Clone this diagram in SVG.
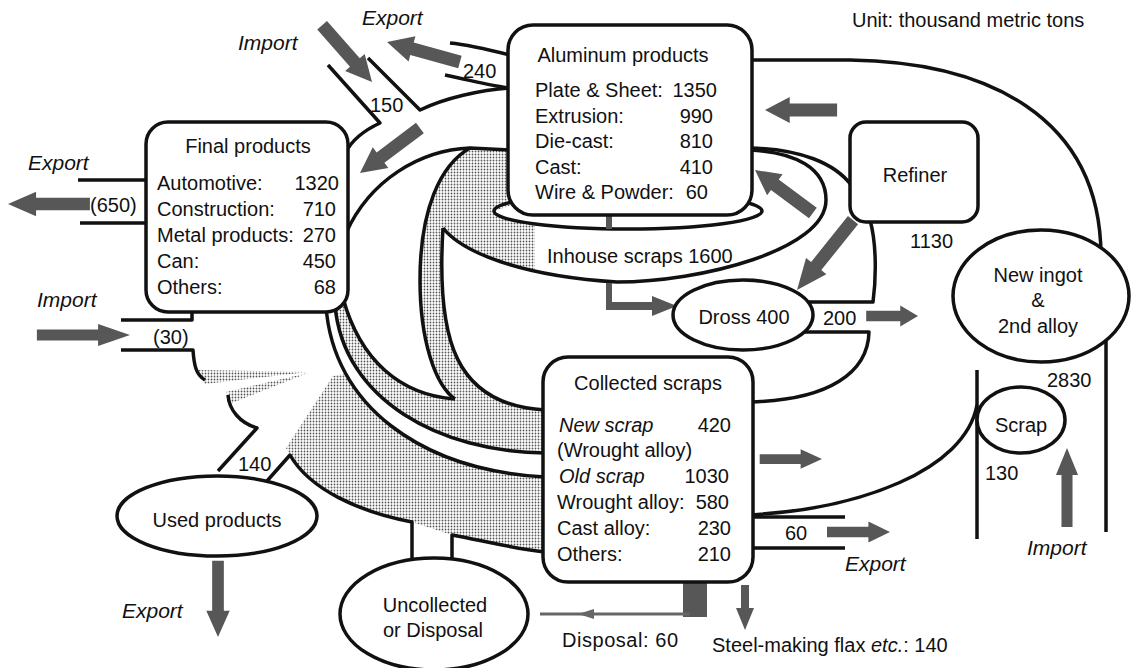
<svg xmlns="http://www.w3.org/2000/svg" width="1131" height="668" viewBox="0 0 1131 668">
<defs>
<style>
.ln{fill:none;stroke:#111;stroke-width:3.5;stroke-linejoin:round}
.nd{fill:#fff;stroke:#111;stroke-width:3.5}
.arr{fill:#575757}
.sh{fill:url(#dots);stroke:none}
.t{font-family:"Liberation Sans",Arial,sans-serif;font-size:20px;fill:#111}
.it{font-style:italic;font-size:21px}
.m{text-anchor:middle}
.e{text-anchor:end}
</style>
<pattern id="dots" width="3" height="3" patternUnits="userSpaceOnUse"><rect width="3" height="3" fill="#fff"/><circle cx="1.5" cy="1.5" r="0.9" fill="#555"/></pattern>
<path id="arr" d="M0,0 L-24,-13 L-24,-6.5 L-70,-6.5 L-70,6.5 L-24,6.5 L-24,13 Z"/>
</defs>
<rect width="1131" height="668" fill="#fff"/>

<g id="connectors">
  <!-- shaded bands -->
  <path class="sh" d="M470,148 L512,150 L512,205 L494,211 A134,18 0 0 0 535,224 L535,271 C486.4,260.4 455.8,244.2 443,228 C436,340 455,405 543,410 L543,453 C440,452 343,400 335,305 L343,298 C360,360 400,395 455,399 C435,385 420,340 420,280 C420,210 440,165 470,148 Z"/>
  <path class="sh" d="M290,455 L286,448 L333,376 L345.6,373.5 C378.75,433.9 450.75,471.75 543,477 L543,552 C510,548 480,540 452,535 L412,522 C360,512 310,490 290,455 Z"/>
  <polygon class="sh" points="198,370 308,372 205,384"/>
  <polygon class="sh" points="226,392 308,373 232,403"/>

  <!-- lines -->
  <path class="ln" d="M78,180 L150,180 M80,223 L150,223"/>
  <path class="ln" d="M328,65 L380,123 C365,130 352,140 346,152"/>
  <path class="ln" d="M368,58 L420,110 C445,98 480,90 510,88"/>
  <path class="ln" d="M450,43 C470,45 490,50 510,55"/>
  <path class="ln" d="M445,75 C470,80 490,86 510,88"/>
  <path class="ln" d="M346,233 C370,180 420,150 470,148 L512,150"/>
  <path class="ln" d="M470,148 C440,165 420,210 420,280 C420,340 435,385 455,399"/>
  <path class="ln" d="M343,298 C360,360 400,395 455,399"/>
  <path class="ln" d="M443,228 C436,340 455,405 545,410"/>
  <path class="ln" d="M335,305 C343,400 440,452 545,453"/>
  <path class="ln" d="M326,306 C333,405 420,470 545,477"/>
  <ellipse class="ln" cx="628" cy="211" rx="134" ry="18"/>
  <path class="ln" d="M443,228 C462,252 520,276 617,282 C700,282 826,250 826,200 C826,168 795,152 750,150"/>
  <path class="ln" d="M750,148 C800,149 835,163 852,186"/>
  <path class="ln" d="M750,60 L850,60 C985,62 1100,115 1101,255"/>
  <path class="ln" d="M870,220 C877,245 876,280 873,302 L806,302"/>
  <path class="ln" d="M804,332 L869,332 C868,372 830,400 750,402"/>
  <path class="ln" d="M745,515 C860,510 965,470 977,405"/>
  <path class="ln" d="M977,370 L977,539 M1106,340 L1106,532"/>
  <path class="ln" d="M750,517 L845,517 M750,548 L845,548"/>
  <path class="ln" d="M121,320 L192,320 L192,308"/>
  <path class="ln" d="M121,350 L193,350 C194,365 196,375 205,380"/>
  <path class="ln" d="M228,395 C229,410 240,423 257,428 L218,471"/>
  <path class="ln" d="M267,481 L290,455 C310,490 360,512 412,522 L412,560"/>
  <path class="ln" d="M452,560 L452,535 C480,540 510,548 545,552"/>

  <!-- arrows -->
  <use href="#arr" class="arr" transform="translate(8,204) rotate(180) scale(1.17,0.95)"/>
  <use href="#arr" class="arr" transform="translate(372,82) rotate(48.7) scale(1.08,1)"/>
  <use href="#arr" class="arr" transform="translate(387,42) rotate(195.3) scale(1.08,1)"/>
  <use href="#arr" class="arr" transform="translate(360,173) rotate(143.1) scale(1.07,1)"/>
  <use href="#arr" class="arr" transform="translate(765,110) rotate(180) scale(1.03,1)"/>
  <use href="#arr" class="arr" transform="translate(755,170) rotate(216.6) scale(1.03,1)"/>
  <use href="#arr" class="arr" transform="translate(797,290) rotate(128.7) scale(1.28,1)"/>
  <use href="#arr" class="arr" transform="translate(918,316) scale(0.74,0.8)"/>
  <use href="#arr" class="arr" transform="translate(822,459) scale(0.89,0.75)"/>
  <use href="#arr" class="arr" transform="translate(890,532) scale(0.9,0.8)"/>
  <use href="#arr" class="arr" transform="translate(1067,448) rotate(-90) scale(1.13,0.85)"/>
  <use href="#arr" class="arr" transform="translate(218,637) rotate(90) scale(1.09,0.9)"/>
  <use href="#arr" class="arr" transform="translate(130,335) scale(1.33,0.85)"/>
  <path class="arr" d="M606,283 L612,283 L612,302 L652,302 L652,296 L677,306 L652,316 L652,310 L606,310 Z"/>
  <rect class="arr" x="606" y="214" width="6" height="15"/>
  <rect class="arr" x="683" y="582" width="24" height="35"/>
  <path d="M540,614 L690,614" stroke="#666" stroke-width="3" fill="none"/>
  <polygon points="578,614 594,609 594,619" fill="#666"/>
  <path class="arr" d="M741,585 L749,585 L749,608 L754,608 L745,630 L736,608 L741,608 Z"/>

  <!-- connector labels -->
  <text class="t it" x="238" y="50">Import</text>
  <text class="t it" x="362" y="25">Export</text>
  <text class="t it" x="28" y="170">Export</text>
  <text class="t it" x="37" y="307">Import</text>
  <text class="t it" x="122" y="618">Export</text>
  <text class="t it" x="845" y="571">Export</text>
  <text class="t it" x="1027" y="555">Import</text>
  <text class="t" x="90" y="212">(650)</text>
  <text class="t" x="370" y="112">150</text>
  <text class="t" x="463" y="78">240</text>
  <text class="t" x="153" y="344">(30)</text>
  <text class="t" x="238" y="471">140</text>
  <text class="t" x="547" y="263">Inhouse scraps 1600</text>
  <text class="t" x="823" y="325">200</text>
  <text class="t" x="785" y="540">60</text>
  <text class="t" x="910" y="248" font-size="21">1130</text>
  <text class="t" x="1047" y="387" font-size="21">2830</text>
  <text class="t" x="985" y="480" font-size="21">130</text>
  <text class="t" x="852" y="27" font-size="21.5">Unit: thousand metric tons</text>
  <text class="t" x="562" y="647" font-size="21.5" textLength="116" lengthAdjust="spacing">Disposal: 60</text>
  <text class="t" x="712" y="652" font-size="21.5">Steel-making flax <tspan font-style="italic">etc.</tspan>: 140</text>
</g>

<g id="final-products">
  <rect class="nd" x="146" y="122" width="202" height="190" rx="22"/>
  <text class="t m" x="248" y="153">Final products</text>
  <text class="t" x="157" y="190">Automotive:</text>
  <text class="t" x="157" y="216">Construction:</text>
  <text class="t" x="157" y="242">Metal products:</text>
  <text class="t" x="157" y="268">Can:</text>
  <text class="t" x="157" y="294">Others:</text>
  <text class="t e" x="339" y="190">1320</text>
  <text class="t e" x="336" y="216">710</text>
  <text class="t e" x="336" y="242">270</text>
  <text class="t e" x="336" y="268">450</text>
  <text class="t e" x="336" y="294">68</text>
</g>

<g id="aluminum-products">
  <rect class="nd" x="508" y="25" width="244" height="190" rx="25"/>
  <text class="t m" x="623" y="62">Aluminum products</text>
  <text class="t" x="535" y="97">Plate &amp; Sheet:</text>
  <text class="t" x="535" y="123">Extrusion:</text>
  <text class="t" x="535" y="148">Die-cast:</text>
  <text class="t" x="535" y="174">Cast:</text>
  <text class="t" x="535" y="199">Wire &amp; Powder:</text>
  <text class="t e" x="717" y="97">1350</text>
  <text class="t e" x="713" y="123">990</text>
  <text class="t e" x="713" y="148">810</text>
  <text class="t e" x="713" y="174">410</text>
  <text class="t e" x="708" y="199">60</text>
</g>

<g id="refiner">
  <rect class="nd" x="850" y="122" width="128" height="100" rx="16"/>
  <text class="t m" x="915" y="182">Refiner</text>
</g>

<g id="new-ingot">
  <ellipse class="nd" cx="1041" cy="296" rx="88" ry="66"/>
  <text class="t m" x="1038" y="282">New ingot</text>
  <text class="t m" x="1038" y="307">&amp;</text>
  <text class="t m" x="1038" y="333">2nd alloy</text>
</g>

<g id="scrap">
  <ellipse class="nd" cx="1021" cy="420" rx="44" ry="33"/>
  <text class="t m" x="1021" y="432">Scrap</text>
</g>

<g id="dross">
  <ellipse class="nd" cx="743" cy="315" rx="70" ry="35"/>
  <text class="t m" x="744" y="324">Dross 400</text>
</g>

<g id="collected-scraps">
  <rect class="nd" x="543" y="357" width="210" height="225" rx="25"/>
  <text class="t m" x="648" y="390">Collected scraps</text>
  <text class="t" x="559" y="432" font-style="italic">New scrap</text>
  <text class="t" x="557" y="457">(Wrought alloy)</text>
  <text class="t" x="559" y="483" font-style="italic">Old scrap</text>
  <text class="t" x="557" y="509">Wrought alloy:</text>
  <text class="t" x="557" y="535">Cast alloy:</text>
  <text class="t" x="557" y="561">Others:</text>
  <text class="t e" x="731" y="432">420</text>
  <text class="t e" x="729" y="483">1030</text>
  <text class="t e" x="729" y="509">580</text>
  <text class="t e" x="731" y="535">230</text>
  <text class="t e" x="731" y="561">210</text>
</g>

<g id="used-products">
  <ellipse class="nd" cx="217" cy="516" rx="100" ry="40"/>
  <text class="t m" x="217" y="527">Used products</text>
</g>

<g id="uncollected">
  <ellipse class="nd" cx="434" cy="614" rx="94" ry="56"/>
  <text class="t m" x="435" y="612">Uncollected</text>
  <text class="t m" x="433" y="637">or Disposal</text>
</g>
</svg>
